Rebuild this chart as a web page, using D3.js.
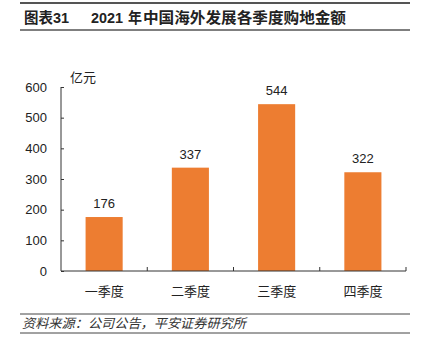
<!DOCTYPE html>
<html><head><meta charset="utf-8">
<script src="https://cdn.jsdelivr.net/npm/d3@7"></script>
<style>body{margin:0;background:#fff}svg{display:block}</style>
</head><body>
<script>
const categories = ["一季度","二季度","三季度","四季度"];
const values = [176, 337, 544, 322];
const yTicks = [0,100,200,300,400,500,600];
const titleParts = ["图表31", "2021", "年", "中国海外发展各季度购地金额"];
const unit = "亿元";
const source = "资料来源：公司公告，平安证券研究所";

const W = 421, H = 357;
const svg = d3.select("body").append("svg").attr("width", W).attr("height", H);
const font = "Arial, 'Liberation Sans', 'Noto Sans CJK SC', sans-serif";

// header lines
svg.append("line").attr("x1",20).attr("x2",410).attr("y1",3).attr("y2",3).attr("stroke","#555").attr("stroke-width",2);
svg.append("line").attr("x1",20).attr("x2",410).attr("y1",30).attr("y2",30).attr("stroke","#555").attr("stroke-width",1.5);
const tx = [24, 91, 128, 143], tw = [45, 32, 14, 203];
svg.selectAll("text.title").data(titleParts).join("text").attr("class","title")
  .attr("x",(d,i)=>tx[i]).attr("y",23).text(d=>d)
  .attr("textLength",(d,i)=>tw[i]).attr("lengthAdjust","spacingAndGlyphs")
  .attr("font-family",font).attr("font-size",15).attr("font-weight","bold").attr("fill","#222");

const x = d3.scaleBand().domain(categories).range([61,406]).paddingInner(0.57).paddingOuter(0.285);
const y = d3.scaleLinear().domain([0,600]).range([271,87]);

// bars
svg.selectAll("rect.bar").data(values).join("rect").attr("class","bar")
  .attr("x",(d,i)=>x(categories[i])).attr("width",x.bandwidth())
  .attr("y",d=>y(d)).attr("height",d=>y(0)-y(d)).attr("fill","#ED7D31");

svg.selectAll("text.val").data(values).join("text").attr("class","val")
  .attr("x",(d,i)=>x(categories[i])+x.bandwidth()/2).attr("y",d=>y(d)-9)
  .attr("text-anchor","middle").attr("font-family",font).attr("font-size",13).attr("fill","#222").text(d=>d);

// y axis
const yAxis = d3.axisLeft(y).tickValues(yTicks).tickSize(-3).tickPadding(14);
const gy = svg.append("g").attr("transform","translate(61,0)").call(yAxis);
gy.select(".domain").attr("stroke","#333").attr("d","M0,"+y(600)+"V"+y(0));
gy.selectAll(".tick line").attr("stroke","#333");
gy.selectAll(".tick text").attr("font-family",font).attr("font-size",13).attr("fill","#222");

// x axis
const xAxis = d3.axisBottom(x).tickSize(0).tickPadding(16);
const gx = svg.append("g").attr("transform","translate(0,271)").call(xAxis);
gx.select(".domain").attr("stroke","#333").attr("d","M61,0H406");
gx.selectAll(".tick text").attr("font-family",font).attr("font-size",13).attr("fill","#222");
const step = x.step();
const bounds = categories.map((c,i)=>x(c)+x.bandwidth()/2+step/2);
gx.selectAll("line.b").data(bounds).join("line").attr("class","b")
  .attr("x1",d=>d).attr("x2",d=>d).attr("y1",0).attr("y2",-4).attr("stroke","#333");

svg.append("text").attr("x",70).attr("y",82).text(unit)
  .attr("font-family",font).attr("font-size",13).attr("fill","#222");

// footer
svg.append("line").attr("x1",20).attr("x2",410).attr("y1",314).attr("y2",314).attr("stroke","#444").attr("stroke-width",1);
svg.append("line").attr("x1",20).attr("x2",410).attr("y1",333).attr("y2",333).attr("stroke","#444").attr("stroke-width",1);
svg.append("text").attr("x",22).attr("y",328).text(source)
  .attr("textLength",224).attr("lengthAdjust","spacingAndGlyphs")
  .attr("font-family",font).attr("font-size",13).attr("font-style","italic").attr("fill","#333");
</script>
</body></html>
